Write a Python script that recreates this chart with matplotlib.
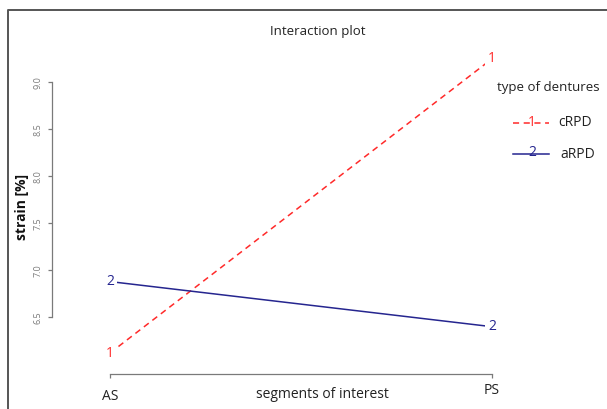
import matplotlib
matplotlib.use("Agg")
import matplotlib.pyplot as plt
from matplotlib.lines import Line2D
import matplotlib.transforms as mtransforms

plt.rcParams['font.family'] = ['Open Sans', 'DejaVu Sans']

# ---- data ---------------------------------------------------------------
segments = ["AS", "PS"]
denture_types = ["cRPD", "aRPD"]
series_codes = ["1", "2"]
strain_cRPD = [6.12, 9.25]
strain_aRPD = [6.88, 6.40]
yticks = [6.5, 7.0, 7.5, 8.0, 8.5, 9.0]

RED = "#ff2a2a"
BLUE = "#25258f"
GRAY = "#7a7a7a"

W, H = 607, 409
fig = plt.figure(figsize=(W / 100, H / 100), dpi=100)


def fx(px):
    return px / W


def fy(py):
    return 1 - py / H


# plot region (pixel box) and its data limits
left, right, top, bottom = 52, 500, 50, 374
ax = fig.add_axes([fx(left), fy(bottom), fx(right - left), (bottom - top) / H])
x_px = (110, 492)          # pixel positions of the two segments
y_px = (317.3, 82.3)       # pixel positions of 6.5 and 9.0
sx = (x_px[1] - x_px[0])
sy = (y_px[0] - y_px[1]) / 2.5
ax.set_xlim(1 - (x_px[0] - left) / sx, 2 + (right - x_px[1]) / sx)
ax.set_ylim(6.5 - (bottom - y_px[0]) / sy, 6.5 + (y_px[0] - top) / sy)

xs = [1, 2]
series = [strain_cRPD, strain_aRPD]
colors = [RED, BLUE]
styles = [(0, (4, 3)), "-"]

for vals, col, ls, code in zip(series, colors, styles, series_codes):
    ax.plot(xs, vals, color=col, linestyle=ls, lw=1.1, zorder=2)
    for x, v in zip(xs, vals):
        ax.text(x, v, code, color=col, fontsize=10, ha="center", va="center",
                zorder=3,
                bbox=dict(boxstyle="square,pad=0.25", fc="white", ec="none"))

# axes styling
for s in ("top", "right"):
    ax.spines[s].set_visible(False)
ax.spines["left"].set_bounds(6.5, 9.0)
ax.spines["bottom"].set_bounds(1, 2)
for s in ("left", "bottom"):
    ax.spines[s].set_color(GRAY)
    ax.spines[s].set_linewidth(0.9)

ax.set_yticks(yticks)
ax.set_yticklabels([f"{t:.1f}" for t in yticks], rotation=90, va="center",
                   fontsize=6.5, color=GRAY)
ax.tick_params(axis="y", length=3, width=0.9, color=GRAY, pad=4)
ax.set_xticks(xs)
ax.set_xticklabels(segments, fontsize=10, color="#222222")
ax.tick_params(axis="x", length=3, width=0.9, color=GRAY, pad=8)
# PS label sits slightly higher
ax.get_xticklabels()[1].set_transform(
    ax.get_xticklabels()[1].get_transform()
    + mtransforms.ScaledTranslation(0, 6 / 100, fig.dpi_scale_trans))

ax.set_facecolor("none")

fig.text(fx(322), fy(395), "segments of interest", fontsize=10,
         ha="center", va="center", color="#222222")
fig.text(fx(22), fy(207), "strain [%]", fontsize=10, fontweight="bold",
         rotation=90, ha="center", va="center", color="#111111")
fig.text(fx(318), fy(31), "Interaction plot", fontsize=9.5,
         ha="center", va="center", color="#222222")

# legend
fig.text(fx(497), fy(87), "type of dentures", fontsize=9.5,
         ha="left", va="center", color="#222222")
for i, (name, code, col, ls) in enumerate(zip(denture_types, series_codes,
                                              colors, styles)):
    yy = [123, 154][i]
    fig.add_artist(Line2D([fx(513), fx(549)], [fy(yy), fy(yy)], color=col,
                          linestyle=ls, lw=1.1, transform=fig.transFigure))
    fig.text(fx(532), fy(yy - 1), code, fontsize=10, color=col,
             ha="center", va="center")
    fig.text(fx([558, 560][i]), fy(yy), name, fontsize=10,
             ha="left", va="center", color="#222222")

# outer frame (left and top edges)
fig.add_artist(Line2D([fx(8), fx(8), fx(607)], [fy(409), fy(10), fy(10)],
                      color="#555555", lw=1.4, transform=fig.transFigure))

fig.savefig("out.png", dpi=100)
